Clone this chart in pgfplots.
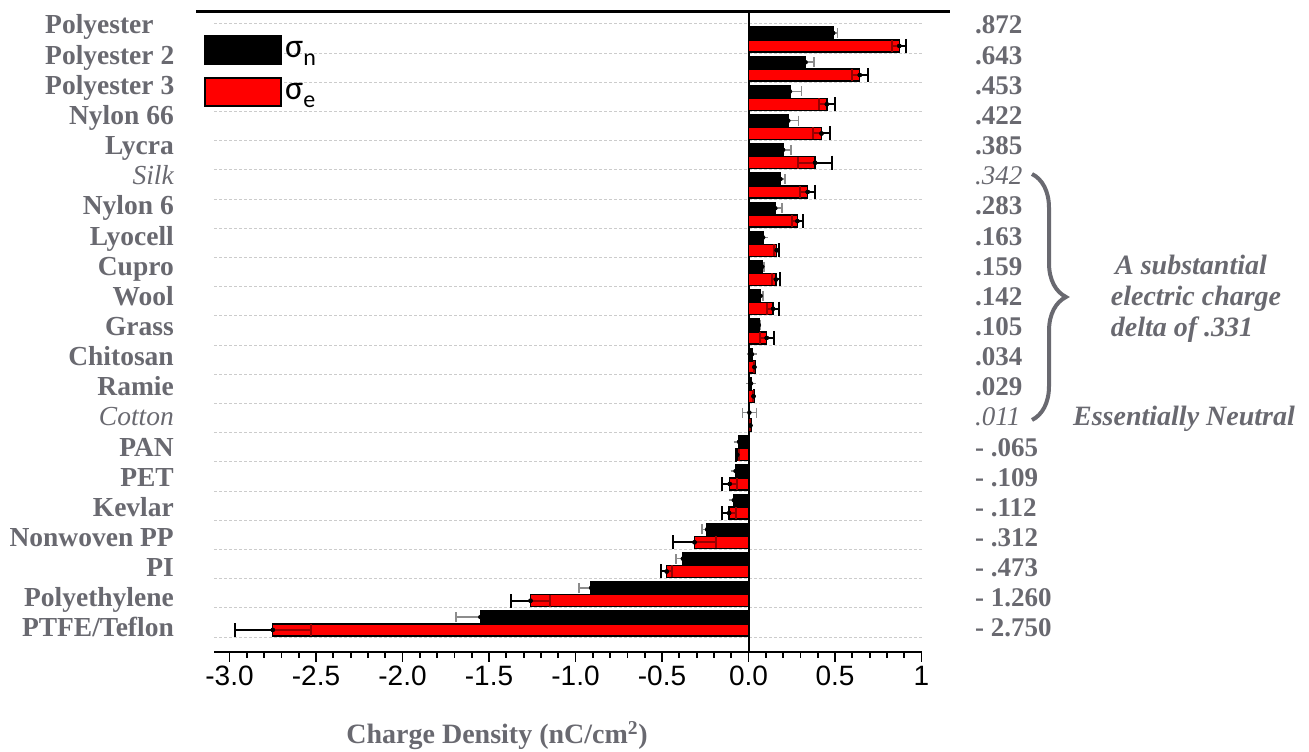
\documentclass[border=0pt]{standalone}
\usepackage{pgfplots}
\pgfplotsset{compat=1.18}
\usepackage{pgfplotstable}
\usepackage{fontspec}
\setmainfont{Liberation Serif}
\setsansfont{Liberation Sans}
\newfontfamily\calibri{Carlito}
\usetikzlibrary{decorations.pathreplacing}
\definecolor{tgray}{RGB}{105,105,112}
\definecolor{darkred}{RGB}{150,0,0}

% sigma_n : y position, value, error
\pgfplotstableread{
y x e
20.69 0.49 0.025
19.69 0.33 0.05
18.69 0.24 0.065
17.69 0.23 0.06
16.69 0.20 0.045
15.69 0.185 0.025
14.69 0.155 0.04
13.69 0.085 0.0
12.69 0.08 0.01
11.69 0.07 0.015
10.69 0.06 0.01
9.69 0.02 0.0
8.69 0.015 0.0
7.69 0.005 0.04
6.69 -0.055 0.0
5.69 -0.075 0.0
4.69 -0.085 0.0
3.69 -0.24 0.03
2.69 -0.38 0.04
1.69 -0.91 0.07
0.69 -1.55 0.14
}\blackdata

% sigma_e : y position, value, error
\pgfplotstableread{
y x e
20.25 0.872 0.04
19.25 0.643 0.045
18.25 0.453 0.045
17.25 0.422 0.05
16.25 0.385 0.10
15.25 0.342 0.045
14.25 0.283 0.03
13.25 0.163 0.015
12.25 0.159 0.025
11.25 0.142 0.035
10.25 0.105 0.04
9.25 0.034 0.005
8.25 0.029 0.005
7.25 0.011 0.005
6.25 -0.065 0.01
5.25 -0.109 0.045
4.25 -0.112 0.04
3.25 -0.312 0.125
2.25 -0.473 0.03
1.25 -1.260 0.115
0.25 -2.750 0.22
}\reddata

\begin{document}
\begin{tikzpicture}
\useasboundingbox (0pt,0pt) rectangle (1309pt,752pt);
\begin{axis}[
  at={(214pt,100pt)}, anchor=south west,
  scale only axis, width=707.5pt, height=640pt,
  xmin=-3.0896, xmax=1.0, ymin=-0.507, ymax=21.411,
  axis x line*=bottom, axis y line*=left, separate axis lines,
  x axis line style={-, black, line width=2.5pt},
  y axis line style={draw=none},
  xtick={-3,-2.5,-2,-1.5,-1,-0.5,0,0.5,1},
  xticklabels={-3.0,-2.5,-2.0,-1.5,-1.0,-0.5,0.0,0.5,1},
  minor x tick num=4,
  tick align=outside,
  major tick length=10pt, minor tick length=6pt,
  xtick style={black, line width=1.8pt},
  xticklabel style={font=\sffamily\fontsize{28}{30}\selectfont, inner sep=0pt, yshift=-4pt},
  /pgf/number format/assume math mode=true,
  ytick={0,...,21}, yticklabels={}, ytick style={draw=none},
  ymajorgrids, major grid style={black!20, dash pattern=on 3pt off 2pt, line width=1pt},
  extra x ticks={0}, extra x tick labels={},
  extra x tick style={grid=major, major grid style={solid, black, line width=2pt}, major tick length=0pt},
  legend style={at={(-0.0141,0.964)}, anchor=north west, draw=none, fill=none,
    inner sep=0pt, row sep=12pt, font=\calibri\fontsize{34}{34}\selectfont,
    nodes={inner sep=3pt, anchor=west}},
  legend cell align=left,
  error bars/error mark=|,
]
% sigma_n error bars (behind bars)
\addplot[only marks, mark=none, forget plot,
  error bars/.cd, x dir=both, x explicit, error mark=|,
  error bar style={draw=black!45, line width=1.5pt},
  error mark options={draw=black!45, line width=1.5pt, mark size=5pt}]
  table[x=x, y=y, x error=e] {\blackdata};
\addplot[xbar, bar shift=0pt, bar width=0.41, fill=black, draw=black, line width=1.4pt,
  legend image code/.code={\draw[fill=black, draw=black, line width=2pt] (0pt,-14pt) rectangle (76pt,14pt);}]
  table[x=x, y=y] {\blackdata};
\addlegendentry{σ\raisebox{-8pt}{\fontsize{24}{24}\selectfont n}}
\addplot[xbar, bar shift=0pt, bar width=0.41, fill=red, draw=black, line width=1.4pt,
  legend image code/.code={\draw[fill=red, draw=black, line width=2pt] (0pt,-14pt) rectangle (76pt,14pt);}]
  table[x=x, y=y] {\reddata};
\addlegendentry{σ\raisebox{-8pt}{\fontsize{24}{24}\selectfont e}}
% sigma_e outer error bars
\addplot[only marks, mark=none, forget plot, restrict x to domain=0:5,
  error bars/.cd, x dir=plus, x explicit, error mark=|,
  error bar style={draw=black, line width=2pt},
  error mark options={draw=black, line width=2pt, mark size=7pt}]
  table[x=x, y=y, x error=e] {\reddata};
\addplot[only marks, mark=none, forget plot, restrict x to domain=-5:0,
  error bars/.cd, x dir=minus, x explicit, error mark=|,
  error bar style={draw=black, line width=2pt},
  error mark options={draw=black, line width=2pt, mark size=7pt}]
  table[x=x, y=y, x error=e] {\reddata};
% sigma_e inner error bars
\addplot[only marks, mark=none, forget plot, restrict x to domain=0:5,
  error bars/.cd, x dir=minus, x explicit, error mark=|,
  error bar style={draw=darkred, line width=2pt},
  error mark options={draw=darkred, line width=2pt, mark size=6pt}]
  table[x=x, y=y, x error=e] {\reddata};
\addplot[only marks, mark=none, forget plot, restrict x to domain=-5:0,
  error bars/.cd, x dir=plus, x explicit, error mark=|,
  error bar style={draw=darkred, line width=2pt},
  error mark options={draw=darkred, line width=2pt, mark size=6pt}]
  table[x=x, y=y, x error=e] {\reddata};
\end{axis}

\begin{scope}[shift={(0pt,752pt)}, x=1pt, y=-1pt]
% top rule
\draw[black, line width=3pt] (196,12) -- (950,12);

% category labels
\tikzset{lab/.style={font=\bfseries\fontsize{27.5}{28}\selectfont, text=tgray, inner sep=0pt, text height=18pt, text depth=0pt}}
\node[lab, anchor=west] at (45,25) {Polyester};
\node[lab, anchor=west] at (45,55.15) {Polyester 2};
\node[lab, anchor=west] at (45,85.3) {Polyester 3};
\foreach \t [count=\i from 3] in {Nylon 66, Lycra, {\mdseries\itshape Silk}, Nylon 6, Lyocell, Cupro, Wool, Grass, Chitosan, Ramie, {\mdseries\itshape Cotton}, PAN, PET, Kevlar, Nonwoven PP, PI, Polyethylene, PTFE/Teflon}
  {\node[lab, anchor=east] at (174,{25+30.15*\i}) {\t};}

% right-hand values
\tikzset{val/.style={font=\bfseries\fontsize{27}{28}\selectfont, text=tgray, inner sep=0pt, text height=18pt, text depth=0pt, anchor=west}}
\foreach \t [count=\i from 0] in {.872, .643, .453, .422, .385, {\mdseries\itshape .342}, .283, .163, .159, .142, .105, .034, .029, {\mdseries\itshape .011}, - .065, - .109, - .112, - .312, - .473, - 1.260, - 2.750}
  {\node[val] at (975,{25+30.15*\i}) {\t};}

% brace and annotations
\draw[tgray, line width=4pt, decorate, decoration={brace, amplitude=34pt}] (1032,174) -- (1032,420);
\tikzset{ann/.style={font=\bfseries\itshape\fontsize{28}{30}\selectfont, text=tgray, inner sep=0pt, text height=18pt, text depth=0pt}}
\node[ann] at (1191,266) {A substantial};
\node[ann] at (1196,297) {electric charge};
\node[ann] at (1182,328) {delta of .331};
\node[ann] at (1184,417) {Essentially Neutral};

% x label
\node[font=\bfseries\fontsize{28}{30}\selectfont, text=tgray, inner sep=0pt, text height=18pt, text depth=0pt] at (497,735) {Charge Density (nC/cm\textsuperscript{2})};
\end{scope}
\end{tikzpicture}
\end{document}
